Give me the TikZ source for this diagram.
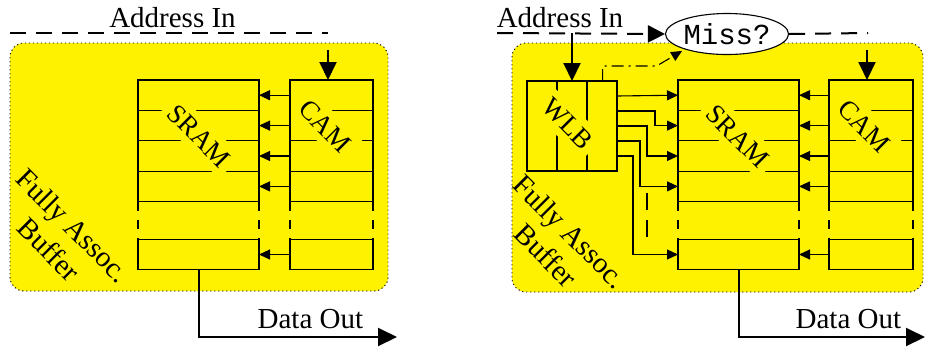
\documentclass[tikz,border=0pt]{standalone}
\usepackage{fontspec}
\setmainfont{Liberation Serif}
\setmonofont{Liberation Mono}
\usetikzlibrary{arrows.meta,calc,shapes.geometric}

\begin{document}
\begin{tikzpicture}[x=1pt,y=-1pt,
  line width=1.1pt,
  lbl/.style={font=\fontsize{29}{34}\selectfont},
  tag/.style={font=\fontsize{27}{30}\selectfont, rotate=-45, fill=yellow, inner xsep=6pt, inner ysep=7pt},
  buffer/.style={fill=yellow, draw=black, line width=0.9pt, dash pattern=on 1.2pt off 2.8pt,
                 rounded corners=14pt, inner sep=0},
  cell/.style={inner sep=0, outer sep=0, minimum height=30.4pt},
  lastcell/.style={draw, inner sep=0, outer sep=0, minimum height=30pt},
  addr/.style={line width=2pt, dash pattern=on 16pt off 10pt},
  big/.style={line width=2pt, -{Triangle[length=18pt,width=17pt]}},
  small/.style={-{Triangle[length=11pt,width=10pt]}},
  side/.style={dash pattern=on 9pt off 9pt},
  dashdot/.style={dash pattern=on 12pt off 5pt on 2pt off 5pt},
  dataout/.style={line width=2pt, -{Triangle[length=19pt,width=18pt]}},
]
\useasboundingbox (0,0) rectangle (925,349);
\fill[white] (0,0) rectangle (925,349);

% ---------------- left: plain fully associative buffer ----------------
\node[buffer, minimum width=378pt, minimum height=248pt] (lbuf) at (199,167) {};

\foreach \i in {1,...,4} {
  \node[cell, minimum width=121pt, anchor=north west] (ls\i) at (138,{80+30.4*(\i-1)}) {};
  \node[cell, minimum width=83pt,  anchor=north west] (lc\i) at (290,{80+30.4*(\i-1)}) {};
}
\foreach \i in {1,2,3} {
  \draw (ls\i.south west) -- (ls\i.south east);
  \draw (lc\i.south west) -- (lc\i.south east);
}
\node[tag] (lsram) at (199,136) {SRAM};
\node[tag] (lcam) at (325,126) {CAM};

\draw (ls1.north west) rectangle (ls4.south east);
\draw (lc1.north west) rectangle (lc4.south east);
\node[lastcell, minimum width=121pt, anchor=north west] (lsl) at (138,239.5) {};
\node[lastcell, minimum width=83pt,  anchor=north west] (lcl) at (290,239.5) {};
\draw[side] (ls4.south west) -- (lsl.north west);
\draw[side] (ls4.south east) -- (lsl.north east);
\draw[side] (lc4.south west) -- (lcl.north west);
\draw[side] (lc4.south east) -- (lcl.north east);

\foreach \i in {1,...,4} \draw[small] (lc\i.west) -- (ls\i.east);
\draw[small] (lcl.west) -- (lsl.east);

\node[lbl, anchor=base] (laddr) at (172.5,27) {Address In};
\coordinate (la0) at (10,33);
\coordinate (la1) at (328,33);
\draw[addr] (la0) -- (la1);
\coordinate (lcamin) at (328,50);
\draw[big] (lcamin) -- (lcamin |- lc1.north);

\coordinate (lout) at (397,337);
\draw[dataout] (lsl.south) |- (lout);
\node[lbl, anchor=base east] (ldata) at (367,328) {Data Out};

\node[lbl, rotate=-45, align=center] (lfab) at (61,237.5) {Fully Assoc.\\Buffer};

% ---------------- right: buffer with word-line buffer (WLB) ----------------
\node[buffer, minimum width=411pt, minimum height=249pt] (rbuf) at (717.5,167.5) {};

\foreach \i in {1,...,4} {
  \node[cell, minimum width=121pt, anchor=north west] (rs\i) at (678,{80+30.4*(\i-1)}) {};
  \node[cell, minimum width=84pt,  anchor=north west] (rc\i) at (829,{80+30.4*(\i-1)}) {};
}
\foreach \i in {1,2,3} {
  \draw (rs\i.south west) -- (rs\i.south east);
  \draw (rc\i.south west) -- (rc\i.south east);
}

\node[inner sep=0, outer sep=0, minimum width=90pt, minimum height=90pt] (wlb) at (572,126) {};
\draw ($(wlb.north west)!1/3!(wlb.north east)$) -- ($(wlb.south west)!1/3!(wlb.south east)$);
\draw ($(wlb.north west)!2/3!(wlb.north east)$) -- ($(wlb.south west)!2/3!(wlb.south east)$);

\node[tag] (rsram) at (737.5,136.5) {SRAM};
\node[tag] (rcam) at (864,126) {CAM};
\node[tag] (wlbl) at (567.5,123.5) {WLB};

\draw (wlb.north west) rectangle (wlb.south east);
\draw (rs1.north west) rectangle (rs4.south east);
\draw (rc1.north west) rectangle (rc4.south east);
\node[lastcell, minimum width=121pt, anchor=north west] (rsl) at (678,239.5) {};
\node[lastcell, minimum width=84pt,  anchor=north west] (rcl) at (829,239.5) {};
\draw[side] (rs4.south west) -- (rsl.north west);
\draw[side] (rs4.south east) -- (rsl.north east);
\draw[side] (rc4.south west) -- (rcl.north west);
\draw[side] (rc4.south east) -- (rcl.north east);

\foreach \i in {1,...,4} \draw[small] (rc\i.west) -- (rs\i.east);
\draw[small] (rcl.west) -- (rsl.east);

% word lines leaving the WLB
\foreach \k in {1,...,5}
  \coordinate (w\k) at ($(wlb.north east)!\k/6!(wlb.south east)$);
\draw[small] (w1) -- (rs1.west);
\draw[small] (w2) -- ++(38,0) |- (rs2.west);
\draw[small] (w3) -- ++(30,0) |- (rs3.west);
\draw[small] (w4) -- ++(23,0) |- (rs4.west);
\draw[small] (w5) -- ++(16,0) |- (rsl.west);
\coordinate (wd0) at (647,193);
\coordinate (wd1) at (647,245);
\draw[dash pattern=on 17pt off 10pt] (wd0) -- (wd1);

\node[lbl, anchor=base] (raddr) at (560,27) {Address In};
\node[draw, ellipse, fill=white, minimum width=121pt, minimum height=41pt, inner sep=0,
      font=\ttfamily\fontsize{29}{34}\selectfont] (miss) at (727,34) {Miss?};
\coordinate (ra0) at (497,33);
\coordinate (ra1) at (868,33);
\draw[addr, -{Triangle[length=17pt,width=17pt]}] (ra0) -- (miss.west);
\draw[addr] (miss.east) -- (ra1);
\coordinate (rwin) at (572,33);
\draw[big] (rwin) -- (rwin |- wlb.north);
\coordinate (rcamin) at (867,50);
\draw[big] (rcamin) -- (rcamin |- rc1.north);

\coordinate (wtap) at ($(wlb.north west)!0.84!(wlb.north east)$);
\draw[dashdot, -{Triangle[length=11pt,width=10pt]}, shorten >=3pt]
  (wtap) -- ++(0,-15) -- ++(54,0) -- (miss.200);

\coordinate (rout) at (925,337);
\draw[dataout] (rsl.south) |- (rout);
\node[lbl, anchor=base east] (rdata) at (905,328) {Data Out};

\node[lbl, rotate=-45, align=center] (rfab) at (558,243.5) {Fully Assoc.\\Buffer};
\end{tikzpicture}
\end{document}
